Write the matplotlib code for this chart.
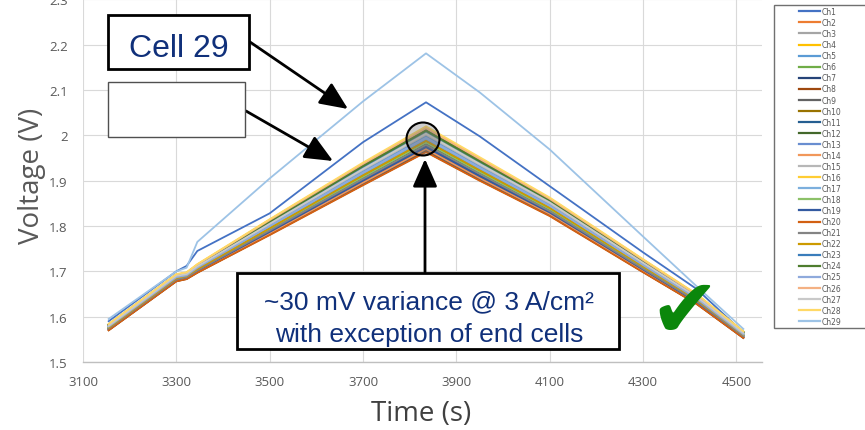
import matplotlib
matplotlib.use('Agg')
import matplotlib.pyplot as plt
from matplotlib.patches import Rectangle, Circle

W, H = 865, 431

# ---- data ----
time_s = [3155, 3300, 3322, 3345, 3500, 3700, 3835, 3950, 4100, 4300, 4415, 4515]

ch1 = [1.590, 1.700, 1.712, 1.745, 1.828, 1.985, 2.073, 1.998, 1.888, 1.742, 1.661, 1.565]
ch2 = [1.572, 1.681, 1.685, 1.700, 1.786, 1.898, 1.972, 1.908, 1.829, 1.703, 1.632, 1.555]
ch3 = [1.579, 1.688, 1.693, 1.709, 1.802, 1.922, 1.999, 1.933, 1.848, 1.717, 1.642, 1.563]
ch4 = [1.583, 1.693, 1.697, 1.715, 1.814, 1.938, 2.018, 1.950, 1.861, 1.726, 1.649, 1.567]
ch5 = [1.578, 1.688, 1.692, 1.708, 1.801, 1.920, 1.997, 1.931, 1.847, 1.715, 1.641, 1.562]
ch6 = [1.581, 1.690, 1.694, 1.711, 1.807, 1.928, 2.006, 1.940, 1.853, 1.720, 1.645, 1.564]
ch7 = [1.571, 1.679, 1.684, 1.698, 1.782, 1.892, 1.966, 1.903, 1.824, 1.699, 1.629, 1.554]
ch8 = [1.570, 1.678, 1.683, 1.697, 1.781, 1.891, 1.964, 1.901, 1.823, 1.699, 1.628, 1.553]
ch9 = [1.571, 1.679, 1.684, 1.699, 1.783, 1.894, 1.968, 1.904, 1.825, 1.700, 1.630, 1.554]
ch10 = [1.576, 1.684, 1.689, 1.705, 1.794, 1.910, 1.986, 1.921, 1.838, 1.710, 1.637, 1.559]
ch11 = [1.573, 1.682, 1.687, 1.702, 1.788, 1.902, 1.977, 1.912, 1.832, 1.705, 1.633, 1.557]
ch12 = [1.574, 1.683, 1.688, 1.703, 1.791, 1.906, 1.981, 1.917, 1.835, 1.707, 1.635, 1.558]
ch13 = [1.577, 1.686, 1.690, 1.706, 1.797, 1.914, 1.990, 1.925, 1.842, 1.712, 1.639, 1.560]
ch14 = [1.572, 1.680, 1.685, 1.699, 1.784, 1.896, 1.970, 1.906, 1.827, 1.701, 1.631, 1.555]
ch15 = [1.580, 1.689, 1.693, 1.710, 1.804, 1.924, 2.002, 1.935, 1.850, 1.718, 1.643, 1.563]
ch16 = [1.582, 1.692, 1.696, 1.714, 1.811, 1.935, 2.014, 1.946, 1.858, 1.724, 1.648, 1.566]
ch17 = [1.577, 1.686, 1.691, 1.707, 1.798, 1.916, 1.993, 1.927, 1.843, 1.713, 1.639, 1.561]
ch18 = [1.575, 1.684, 1.688, 1.704, 1.793, 1.908, 1.984, 1.919, 1.837, 1.708, 1.636, 1.558]
ch19 = [1.573, 1.681, 1.686, 1.701, 1.787, 1.900, 1.974, 1.910, 1.830, 1.704, 1.632, 1.556]
ch20 = [1.570, 1.678, 1.683, 1.697, 1.780, 1.890, 1.963, 1.900, 1.822, 1.698, 1.628, 1.553]
ch21 = [1.574, 1.682, 1.687, 1.702, 1.790, 1.904, 1.979, 1.915, 1.833, 1.706, 1.634, 1.557]
ch22 = [1.576, 1.685, 1.690, 1.705, 1.795, 1.912, 1.988, 1.923, 1.840, 1.711, 1.638, 1.560]
ch23 = [1.581, 1.691, 1.695, 1.712, 1.808, 1.930, 2.009, 1.942, 1.855, 1.721, 1.646, 1.565]
ch24 = [1.582, 1.692, 1.696, 1.713, 1.810, 1.933, 2.011, 1.944, 1.857, 1.723, 1.647, 1.566]
ch25 = [1.578, 1.687, 1.691, 1.708, 1.800, 1.918, 1.995, 1.929, 1.845, 1.714, 1.640, 1.561]
ch26 = [1.583, 1.693, 1.697, 1.715, 1.813, 1.937, 2.016, 1.948, 1.860, 1.725, 1.648, 1.567]
ch27 = [1.580, 1.690, 1.694, 1.711, 1.805, 1.926, 2.004, 1.937, 1.852, 1.719, 1.644, 1.564]
ch28 = [1.584, 1.694, 1.698, 1.716, 1.815, 1.940, 2.020, 1.952, 1.863, 1.727, 1.650, 1.568]
ch29 = [1.595, 1.700, 1.708, 1.765, 1.905, 2.075, 2.181, 2.095, 1.969, 1.777, 1.667, 1.573]

series = [ch1, ch2, ch3, ch4, ch5, ch6, ch7, ch8, ch9, ch10, ch11, ch12, ch13, ch14,
          ch15, ch16, ch17, ch18, ch19, ch20, ch21, ch22, ch23, ch24, ch25, ch26,
          ch27, ch28, ch29]
labels = ['Ch%d' % (i + 1) for i in range(29)]

colors = ['#4472C4', '#ED7D31', '#A5A5A5', '#FFC000', '#5B9BD5', '#70AD47',
          '#264478', '#9E480E', '#636363', '#997300', '#255E91', '#43682B',
          '#698ED0', '#F1975A', '#B7B7B7', '#FFCD33', '#7CAFDD', '#8CC168',
          '#335AA1', '#D26012', '#848484', '#CC9A00', '#3A7DBB', '#4E7D2E',
          '#8FAADC', '#F4B183', '#C9C9C9', '#FFD966', '#9DC3E6']

x_ticks = [3100, 3300, 3500, 3700, 3900, 4100, 4300, 4500]
y_ticks = [1.5, 1.6, 1.7, 1.8, 1.9, 2.0, 2.1, 2.2, 2.3]
y_ticklabels = ['1.5', '1.6', '1.7', '1.8', '1.9', '2', '2.1', '2.2', '2.3']

# ---- figure ----
fig = plt.figure(figsize=(W / 100, H / 100), dpi=100)
ax = fig.add_axes([83 / W, 1 - 363 / H, (762 - 83) / W, 363 / H - 0.001])

lines = []
for vals, lab, col in zip(series, labels, colors):
    lw = 1.8 if lab == 'Ch24' else 1.3
    ln, = ax.plot(time_s, vals, color=col, lw=lw, label=lab, solid_joinstyle='round')
    lines.append(ln)

ax.set_xlim(3100, 4555)
ax.set_ylim(1.5, 2.3)
ax.set_xticks(x_ticks)
ax.set_yticks(y_ticks)
ax.set_yticklabels(y_ticklabels)
ax.grid(True, color='#D9D9D9', lw=0.8)
ax.set_axisbelow(True)
for s in ['top', 'right', 'left']:
    ax.spines[s].set_visible(False)
ax.spines['bottom'].set_color('#BFBFBF')
ax.spines['bottom'].set_linewidth(1.0)
ax.tick_params(axis='both', length=0, labelcolor='#595959', labelsize=9.5)
ax.tick_params(axis='x', pad=9.5)
ax.tick_params(axis='y', pad=11)
for lab in ax.get_xticklabels() + ax.get_yticklabels():
    lab.set_fontfamily('Open Sans')

fig.text(32 / W, 1 - 176 / H, 'Voltage (V)', rotation=90, ha='center', va='center',
         fontsize=20, color='#595959', family='Open Sans')
fig.text(421 / W, 1 - 414 / H, 'Time (s)', ha='center', va='center',
         fontsize=20, color='#404040', family='Open Sans')

# ---- legend ----
fig.add_artist(Rectangle((774 / W, 1 - 329 / H), 100 / W, 323 / H, transform=fig.transFigure,
                         facecolor='white', edgecolor='#707070', lw=1.0, zorder=4))
leg = fig.legend(lines, labels, loc='upper left', bbox_to_anchor=(799 / W, 1 - 8 / H),
                 bbox_transform=fig.transFigure, frameon=False, fontsize=5.5,
                 borderaxespad=0, borderpad=0, handlelength=2.8, handletextpad=0.2,
                 labelspacing=0.27)
leg.set_zorder(5)
for t in leg.get_texts():
    t.set_color('#595959')
for h in leg.legend_handles:
    h.set_linewidth(1.6)

# ---- annotations ----
navy = '#10307A'

def frect(x0, y0, x1, y1, ec, lw):
    fig.add_artist(Rectangle((x0 / W, 1 - y1 / H), (x1 - x0) / W, (y1 - y0) / H,
                             transform=fig.transFigure, facecolor='white',
                             edgecolor=ec, lw=lw, zorder=6))

frect(108, 16, 249, 70, 'black', 2.0)
fig.text(178.5 / W, 1 - 57 / H, 'Cell 29', ha='center', va='baseline', fontsize=23,
         color=navy, family='Liberation Sans', zorder=7)
frect(108, 83, 245, 138, '#505050', 1.0)

frect(237, 274, 619, 350, 'black', 2.0)
fig.text(428.5 / W, 1 - 309 / H, '~30 mV variance @ 3 A/cm²', ha='center', va='baseline',
         fontsize=19, color=navy, family='Liberation Sans', zorder=7)
fig.text(429.5 / W, 1 - 342 / H, 'with exception of end cells', ha='center', va='baseline',
         fontsize=19, color=navy, family='Liberation Sans', zorder=7)

arrow_kw = dict(arrowstyle='-|>,head_length=0.95,head_width=0.42', lw=2.0, color='black',
                mutation_scale=18, shrinkA=0, shrinkB=0)

def farrow(x0, y0, x1, y1):
    a = ax.annotate('', xy=(x1, H - y1), xycoords='figure pixels',
                    xytext=(x0, H - y0), textcoords='figure pixels',
                    arrowprops=arrow_kw, annotation_clip=False)
    a.set_zorder(8)

farrow(250, 43, 348, 110)
farrow(246, 112, 333, 162)
farrow(425, 273, 425, 160)

fig.add_artist(Circle((4.23, (H - 140) / 100), 0.165, transform=fig.dpi_scale_trans,
                      facecolor=(0.45, 0.45, 0.45, 0.35), edgecolor='black', lw=1.5, zorder=7))

fig.text(684 / W, 1 - 314 / H, '\u2714', ha='center', va='center', fontsize=60,
         color='#0B870B', family='DejaVu Sans', zorder=7)

fig.savefig('out.png', dpi=100, facecolor='white')
